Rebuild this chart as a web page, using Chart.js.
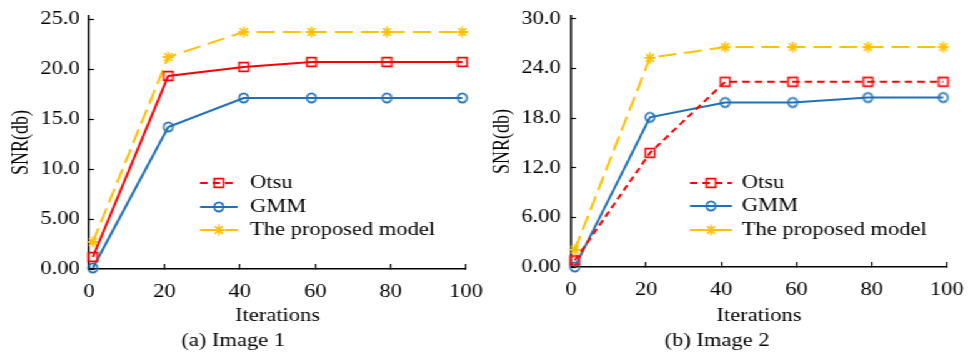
<!DOCTYPE html>
<html>
<head>
<meta charset="utf-8">
<script src="https://cdn.jsdelivr.net/npm/chart.js@4"></script>
<style>
html, body { margin: 0; padding: 0; background: #fff; overflow: hidden; }
/* the reference text is wide, so the whole figure is drawn narrow and stretched */
#wrap { position: absolute; left: 0; top: 0; width: 782px; height: 352px; transform: scaleX(1.25); transform-origin: 0 0; }
.box { position: absolute; top: 0; height: 352px; }
</style>
</head>
<body>
<div id="wrap">
  <div class="box" style="left:0;width:390px"><canvas id="c1"></canvas></div>
  <div class="box" style="left:390px;width:392px"><canvas id="c2"></canvas></div>
</div>
<script>
var SX = 1.25
var FONT = "'Liberation Serif', 'Times New Roman', serif"

var iterations = [1, 21, 41, 59, 79, 99]
var xTicks = [0, 20, 40, 60, 80, 100]
var names = ['Otsu', 'GMM', 'The proposed model']

// (a) Image 1
var otsu1 = [1.2, 19.3, 20.2, 20.7, 20.7, 20.7]
var gmm1 = [0.1, 14.2, 17.1, 17.1, 17.1, 17.1]
var proposed1 = [2.7, 21.2, 23.7, 23.7, 23.7, 23.7]
var yTicks1 = [0, 5, 10, 15, 20, 25]
var yLabels1 = ['0.00', '5.00', '10.0', '15.0', '20.0', '25.0']

// (b) Image 2
var otsu2 = [0.8, 13.8, 22.4, 22.4, 22.4, 22.4]
var gmm2 = [0, 18.1, 19.9, 19.9, 20.5, 20.5]
var proposed2 = [2.1, 25.3, 26.6, 26.6, 26.6, 26.6]
var yTicks2 = [0, 6, 12, 18, 24, 30]
var yLabels2 = ['0.00', '6.00', '12.0', '18.0', '24.0', '30.0']

var RED = '#ff0000', BLUE = '#1f72b8', YELLOW = '#ffc000'

// markers squeezed horizontally so they come out round after the stretch
function marker(kind, color) {
  var c = document.createElement('canvas')
  c.width = 12; c.height = 14
  var g = c.getContext('2d')
  g.translate(6, 7)
  g.scale(1 / SX, 1)
  g.strokeStyle = color
  g.lineWidth = 1.8
  g.beginPath()
  if (kind === 'circle') {
    g.arc(0, 0, 4.6, 0, Math.PI * 2)
  } else if (kind === 'rect') {
    g.rect(-4.6, -4.3, 9.2, 8.6)
  } else {
    for (var a = 0; a < 4; a++) {
      var t = a * Math.PI / 4
      g.moveTo(-5.6 * Math.cos(t), -5.6 * Math.sin(t))
      g.lineTo(5.6 * Math.cos(t), 5.6 * Math.sin(t))
    }
  }
  g.stroke()
  return c
}
var mRect = marker('rect', RED), mCircle = marker('circle', BLUE), mStar = marker('star', YELLOW)

function pts(vals) {
  return iterations.map(function (x, i) { return { x: x, y: vals[i] } })
}

// legend sits inside the plot, under the curves
var insideLegend = {
  id: 'insideLegend',
  afterDraw: function (chart, args, o) {
    var ctx = chart.ctx
    chart.data.datasets.forEach(function (ds, i) {
      var y = o.rows[i]
      ctx.save()
      ctx.strokeStyle = ds.borderColor
      ctx.lineWidth = 2
      ctx.setLineDash(o.dashes[i])
      ctx.beginPath()
      ctx.moveTo(o.x0, y)
      ctx.lineTo(o.x1, y)
      ctx.stroke()
      ctx.setLineDash([])
      var img = ds.pointStyle
      ctx.drawImage(img, (o.x0 + o.x1) / 2 - img.width / 2, y - img.height / 2)
      ctx.fillStyle = '#000'
      ctx.font = '18px ' + FONT
      ctx.textBaseline = 'middle'
      ctx.fillText(ds.label, o.tx, y)
      ctx.restore()
    })
  }
}

function makeChart(id, s) {
  var txt = { family: FONT, size: 18 }
  return new Chart(document.getElementById(id), {
    type: 'line',
    data: {
      datasets: [
        { label: names[0], data: pts(s.otsu), borderColor: RED, borderWidth: 2, borderDash: s.otsuDash, pointStyle: mRect },
        { label: names[1], data: pts(s.gmm), borderColor: BLUE, borderWidth: 2, pointStyle: mCircle },
        { label: names[2], data: pts(s.proposed), borderColor: YELLOW, borderWidth: 2, borderDash: [14.4, 6.4], pointStyle: mStar }
      ]
    },
    options: {
      responsive: true,
      maintainAspectRatio: false,
      animation: false,
      events: [],
      elements: { line: { tension: 0, fill: false }, point: { radius: 5 } },
      datasets: { line: { clip: false } },
      layout: { padding: { top: 16, right: s.padRight, left: 0, bottom: 0 } },
      scales: {
        x: {
          type: 'linear', min: 0, max: 100,
          afterBuildTicks: function (sc) { sc.ticks = xTicks.map(function (v) { return { value: v } }) },
          afterFit: function (sc) { sc.height = s.xH; sc.paddingLeft = 0; sc.paddingRight = 0 },
          ticks: { font: txt, color: '#000', padding: 17, maxRotation: 0, minRotation: 0 },
          grid: { drawOnChartArea: false, tickLength: -5, tickColor: '#000', tickWidth: 1.2 },
          border: { color: '#000', width: 1.5 },
          title: { display: true, text: 'Iterations', font: txt, color: '#000', padding: { top: 0, bottom: 3 } }
        },
        y: {
          min: 0, max: s.ymax,
          afterBuildTicks: function (sc) { sc.ticks = s.yTicks.map(function (v) { return { value: v } }) },
          afterFit: function (sc) { sc.width = s.yW; sc.paddingTop = 0; sc.paddingBottom = 0 },
          ticks: { font: txt, color: '#000', padding: s.yPad, callback: function (v, i) { return s.yLabels[i] } },
          grid: { drawOnChartArea: false, tickLength: -4, tickColor: '#000', tickWidth: 1.2 },
          border: { color: '#000', width: 1.5 },
          title: { display: true, text: 'SNR(db)', font: txt, color: '#000', padding: { top: s.titlePad, bottom: 0 } }
        }
      },
      plugins: {
        legend: { display: false },
        tooltip: { enabled: false },
        title: { display: true, position: 'bottom', text: s.caption, font: { family: FONT, size: 18, weight: 'normal' }, color: '#000', padding: { top: 0, bottom: 0 } },
        insideLegend: s.legend
      }
    },
    plugins: [insideLegend]
  })
}

makeChart('c1', {
  otsu: otsu1, gmm: gmm1, proposed: proposed1, otsuDash: [],
  yTicks: yTicks1, yLabels: yLabels1, ymax: 25.3,
  caption: '(a) Image 1', padRight: 17.2, xH: 61.4, yW: 71.2, yPad: 11.4, titlePad: 6.4,
  legend: { x0: 160, x1: 190, tx: 200, rows: [183, 207, 230], dashes: [[6, 4], [], [14, 6]] }
})

makeChart('c2', {
  otsu: otsu2, gmm: gmm2, proposed: proposed2, otsuDash: [6, 4],
  yTicks: yTicks2, yLabels: yLabels2, ymax: 30.36,
  caption: '(b) Image 2', padRight: 24.4, xH: 63.4, yW: 66.8, yPad: 12.2, titlePad: 1.6,
  legend: { x0: 162, x1: 195.6, tx: 203.6, rows: [183, 206, 230], dashes: [[6, 4], [], [14, 6]] }
})
</script>
</body>
</html>
